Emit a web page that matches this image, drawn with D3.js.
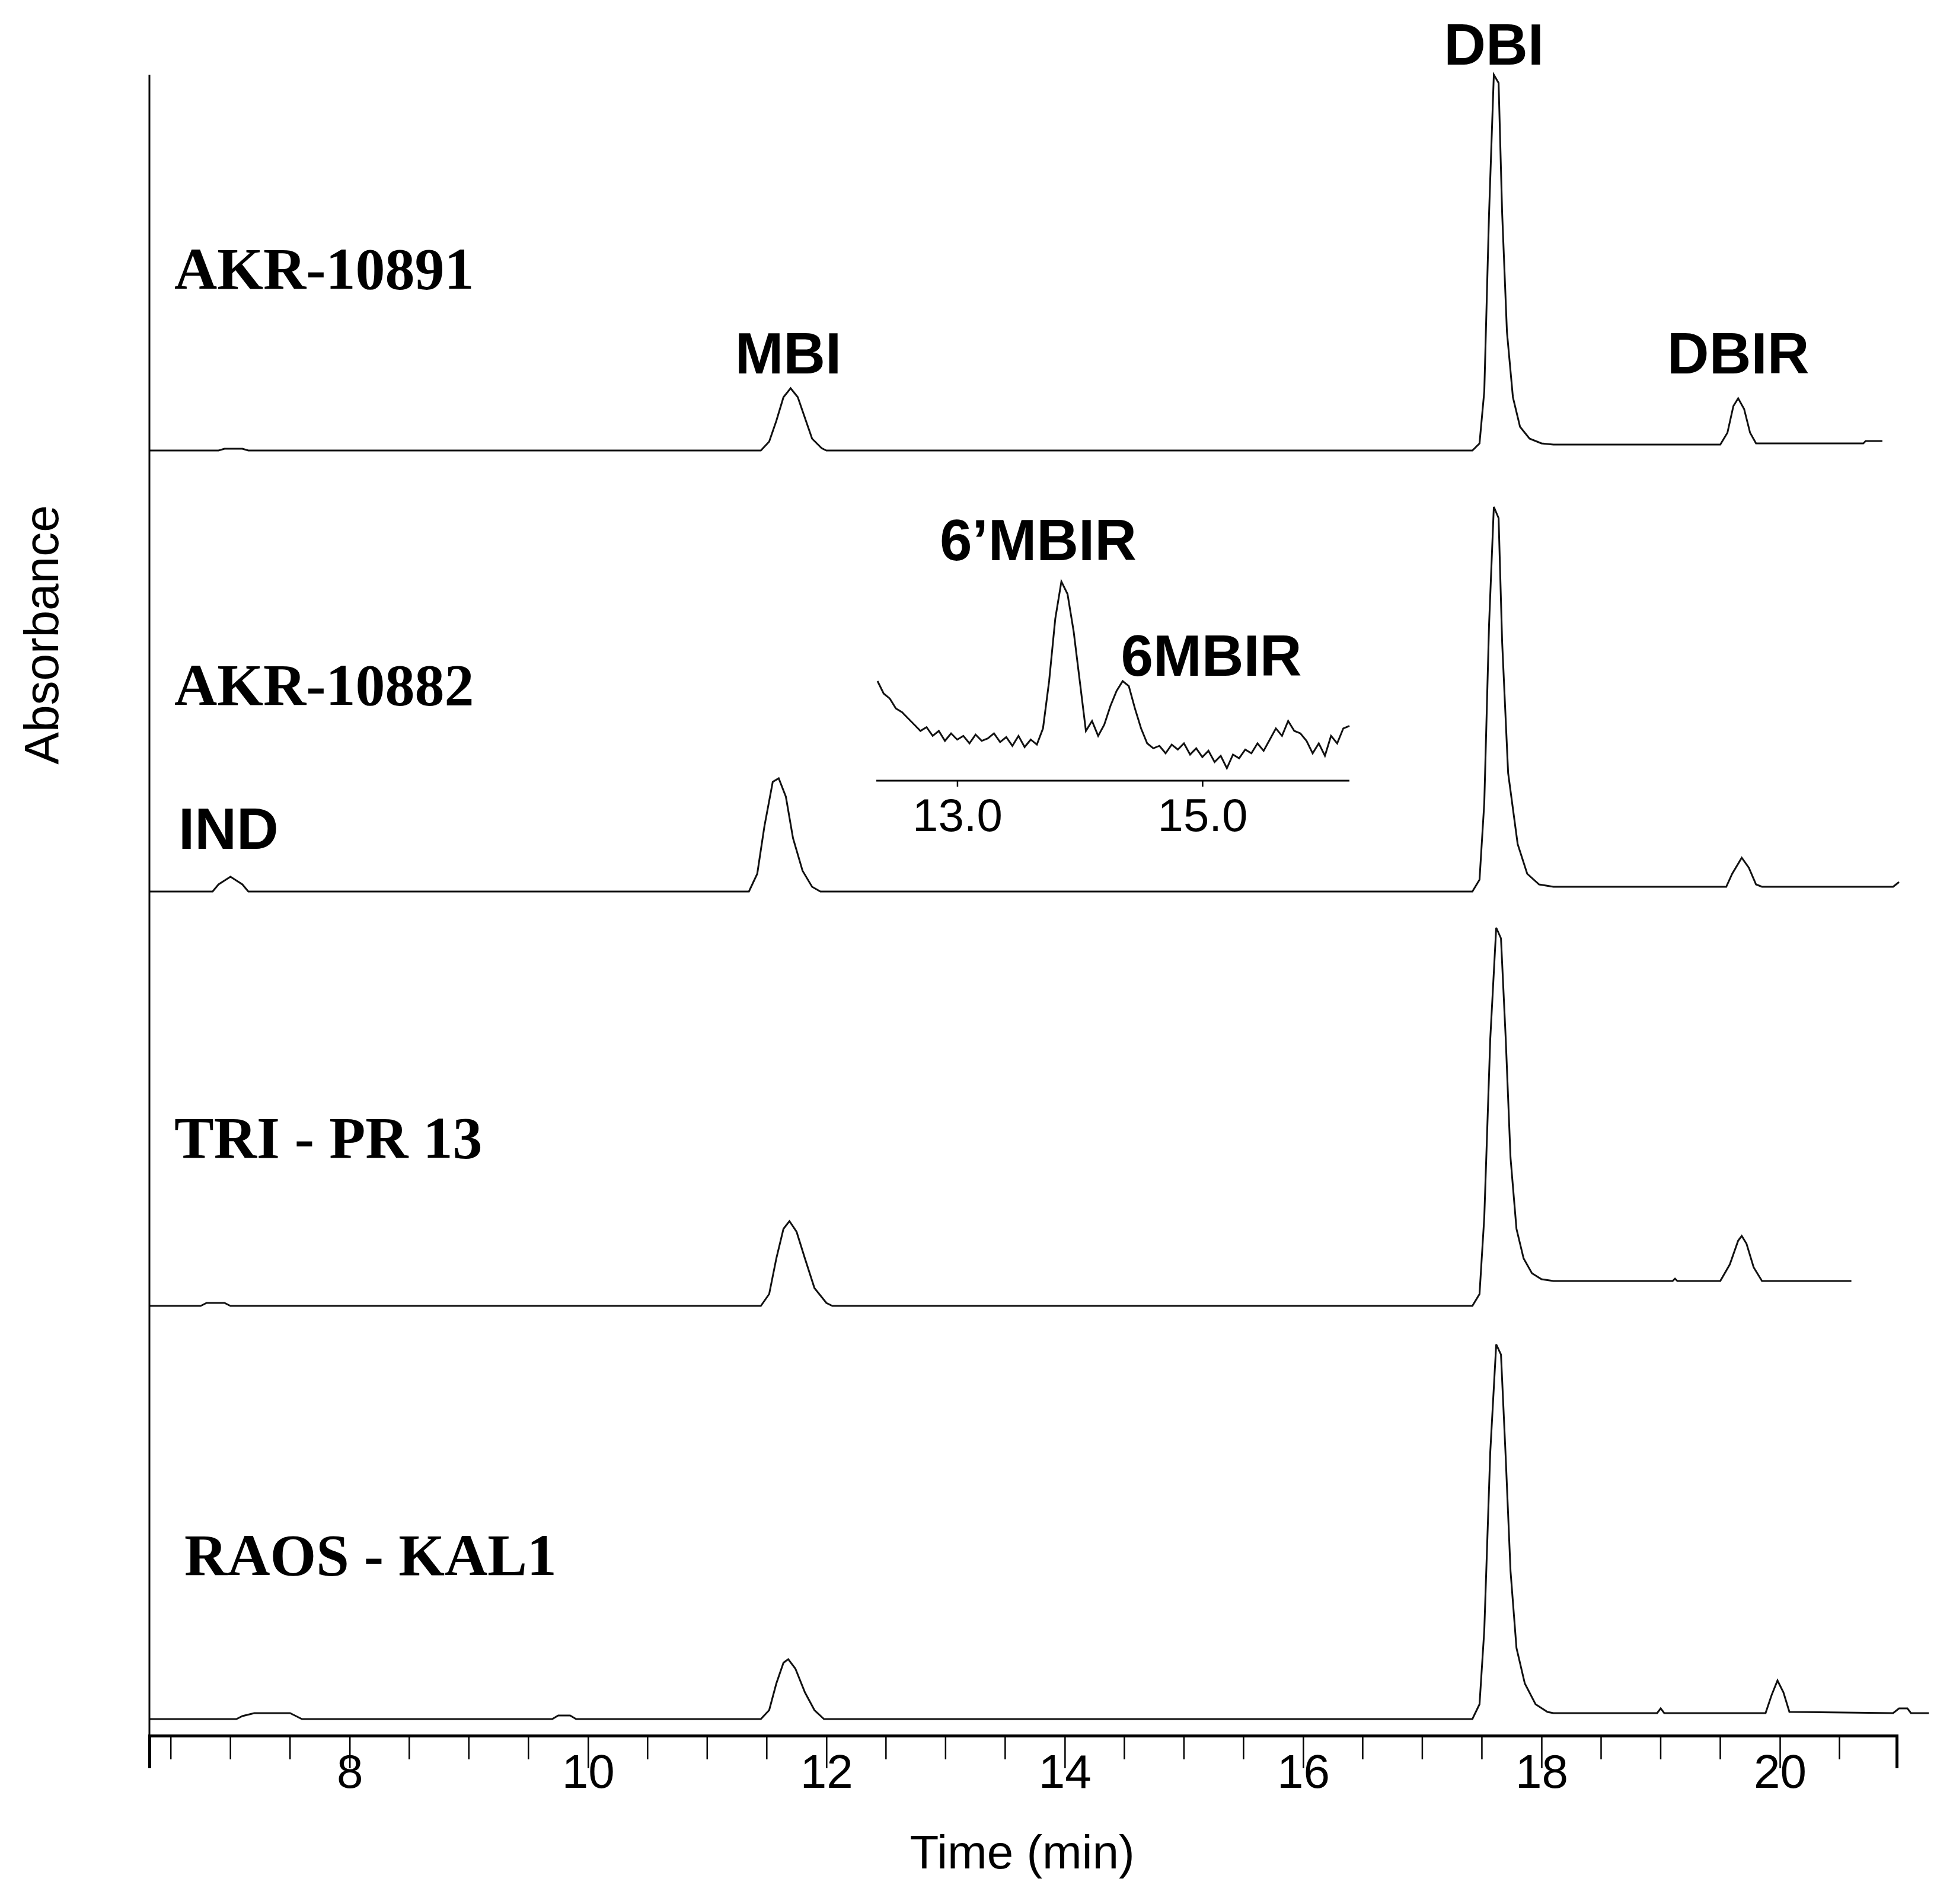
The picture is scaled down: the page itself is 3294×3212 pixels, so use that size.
<!DOCTYPE html>
<html><head><meta charset="utf-8">
<script src="https://cdn.jsdelivr.net/npm/d3@7"></script>
<style>body{margin:0;background:#fff}</style></head>
<body><svg id="c" width="3294" height="3212"></svg>
<script>
const sampleNames = ["AKR-10891","AKR-10882","TRI - PR 13","RAOS - KAL1"];
const trace1 = [[6.32,0],[6.9,0],[6.95,3],[7.1,3],[7.15,0],[11.45,0],[11.52,15],[11.58,50],[11.64,90],[11.7,105],[11.76,90],[11.82,55],[11.88,20],[11.96,4],[12.0,0],[17.42,0],[17.48,12],[17.52,100],[17.56,400],[17.6,634],[17.64,620],[17.67,400],[17.71,200],[17.76,90],[17.82,40],[17.9,20],[18.0,12],[18.1,10],[19.5,10],[19.56,30],[19.61,75],[19.65,88],[19.7,70],[19.75,30],[19.8,12],[20.7,12],[20.72,16],[20.86,16]];
const trace2 = [[6.32,0],[6.85,0],[6.9,12],[7.0,25],[7.1,12],[7.15,0],[11.35,0],[11.42,30],[11.48,110],[11.55,185],[11.6,191],[11.66,160],[11.72,90],[11.8,35],[11.88,8],[11.95,0],[17.42,0],[17.48,20],[17.52,150],[17.56,450],[17.6,649],[17.64,630],[17.67,420],[17.72,200],[17.8,80],[17.88,30],[17.98,12],[18.1,8],[19.55,8],[19.6,30],[19.68,57],[19.74,40],[19.8,12],[19.85,8],[20.95,8],[21.0,16]];
const trace3 = [[6.32,0],[6.75,0],[6.8,5],[6.95,5],[7.0,0],[11.45,0],[11.52,20],[11.58,80],[11.64,130],[11.69,143],[11.75,125],[11.82,80],[11.9,30],[12.0,5],[12.05,0],[17.42,0],[17.48,20],[17.52,150],[17.57,450],[17.62,638],[17.66,620],[17.7,450],[17.74,250],[17.79,130],[17.85,80],[17.92,55],[18.0,45],[18.1,42],[19.1,42],[19.12,46],[19.14,42],[19.5,42],[19.58,70],[19.65,110],[19.68,118],[19.72,105],[19.78,65],[19.85,42],[20.6,42]];
const trace4 = [[6.32,0],[7.05,0],[7.1,5],[7.2,10],[7.5,10],[7.55,5],[7.6,0],[9.7,0],[9.75,6],[9.85,6],[9.9,0],[11.45,0],[11.52,15],[11.58,60],[11.64,95],[11.68,101],[11.74,85],[11.82,45],[11.9,15],[11.98,0],[17.42,0],[17.48,25],[17.52,150],[17.57,450],[17.62,632],[17.66,615],[17.7,440],[17.74,250],[17.79,120],[17.86,60],[17.95,25],[18.05,12],[18.1,10],[18.97,10],[19.0,18],[19.03,10],[19.88,10],[19.93,40],[19.98,65],[20.03,45],[20.08,12],[20.95,10],[21.0,18],[21.07,18],[21.1,10],[21.25,10]];
const insetTimes = [12.35,12.40,12.45,12.50,12.55,12.60,12.65,12.70,12.75,12.80,12.85,12.90,12.95,13.00,13.05,13.10,13.15,13.20,13.25,13.30,13.35,13.40,13.45,13.50,13.55,13.60,13.65,13.70,13.75,13.80,13.85,13.90,13.95,14.00,14.05,14.10,14.15,14.20,14.25,14.30,14.35,14.40,14.45,14.50,14.55,14.60,14.65,14.70,14.75,14.80,14.85,14.90,14.95,15.00,15.05,15.10,15.15,15.20,15.25,15.30,15.35,15.40,15.45,15.50,15.55,15.60,15.65,15.70,15.75,15.80,15.85,15.90,15.95,16.00,16.05,16.10,16.15,16.20];
const insetValues = [80,70,66,58,55,50,45,40,43,36,40,32,38,33,36,30,37,32,34,38,31,35,28,36,27,33,29,42,80,130,160,150,120,80,40,48,36,45,60,72,80,76,58,42,30,26,28,22,29,25,30,21,26,19,24,15,20,10,21,18,25,22,30,24,33,42,36,48,40,38,32,22,30,20,36,30,42,44];
const xTicks = [8,10,12,14,16,18,20];
const insetTicks = [13.0,15.0];
const peakLabels = [["DBI",17.6,109],["MBI",11.68,630],["DBIR",19.65,630]];

const svg = d3.select("#c");
const x = d3.scaleLinear().domain([6.32,20.98]).range([252,3199]);
const baselines = [760,1504,2203,2900];
const h = d3.scaleLinear().domain([0,1]).range([0,1]);
const traces = [trace1,trace2,trace3,trace4];
traces.forEach((tr,i)=>{
  const line = d3.line().x(d=>x(d[0])).y(d=>baselines[i]-h(d[1]));
  svg.append("path").attr("d",line(tr)).attr("fill","none").attr("stroke","#111").attr("stroke-width",3);
});
svg.append("line").attr("x1",252).attr("x2",252).attr("y1",126).attr("y2",2928).attr("stroke","#000").attr("stroke-width",3);
const xAxis = d3.axisBottom(x).tickValues(xTicks).tickSize(55).tickFormat(d3.format("d"));
const gx = svg.append("g").attr("transform","translate(0,2928)").call(xAxis);
gx.select(".domain").attr("stroke-width",5);
gx.selectAll(".tick line").attr("stroke-width",2.5);
gx.selectAll(".tick text").attr("font-family","Liberation Sans, Arial").attr("font-size",80).attr("dy","0.2em").attr("y",72);
const minor = d3.range(6.5,21,0.5).filter(v=>!xTicks.includes(v));
svg.append("g").selectAll("line").data(minor).join("line").attr("x1",d=>x(d)).attr("x2",d=>x(d)).attr("y1",2928).attr("y2",2968).attr("stroke","#000").attr("stroke-width",2.5);
svg.append("text").attr("x",1724).attr("y",3152).attr("text-anchor","middle").attr("font-family","Liberation Sans, Arial").attr("font-size",80).text("Time (min)");
svg.append("text").attr("transform","translate(98,1071) rotate(-90)").attr("text-anchor","middle").attr("font-family","Liberation Sans, Arial").attr("font-size",82).text("Absorbance");
const sPos = [[294,487],[294,1189],[294,1953],[311,2657]];
sampleNames.forEach((s,i)=>svg.append("text").attr("x",sPos[i][0]).attr("y",sPos[i][1]).attr("font-family","Liberation Serif, Times New Roman").attr("font-weight","bold").attr("font-size",100).text(s));
const bold = (t,xx,yy,anchor)=>svg.append("text").attr("x",xx).attr("y",yy).attr("text-anchor",anchor||"middle").attr("font-family","Liberation Sans, Arial").attr("font-weight","bold").attr("font-size",98).text(t);
peakLabels.forEach(p=>bold(p[0],x(p[1]),p[2]));
bold("IND",301,1432,"start");
const xi = d3.scaleLinear().domain([12.34,16.2]).range([1478,2276]);
const yi = d3.scaleLinear().domain([0,200]).range([1317,1317-420]);
const iline = d3.line().x((d,k)=>xi(insetTimes[k])).y(d=>yi(d));
svg.append("path").attr("d",iline(insetValues)).attr("fill","none").attr("stroke","#111").attr("stroke-width",3);
const gi = svg.append("g").attr("transform","translate(0,1317)").call(d3.axisBottom(xi).tickValues(insetTicks).tickSize(10).tickFormat(d3.format(".1f")));
gi.select(".domain").attr("stroke-width",3).attr("d","M1478,0H2276");
gi.selectAll(".tick line").attr("stroke-width",2.5);
gi.selectAll(".tick text").attr("font-family","Liberation Sans, Arial").attr("font-size",78).attr("y",30).attr("dy","0.71em");
bold("6’MBIR",1751,945);
bold("6MBIR",2043,1140);
</script></body></html>
